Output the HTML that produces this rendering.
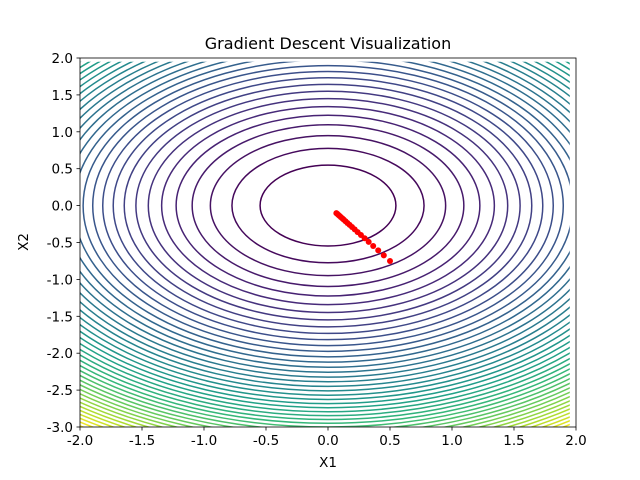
<!DOCTYPE html>
<html><head><meta charset="utf-8"><style>
body{margin:0;background:#fff;}
svg{display:block;font-family:"DejaVu Sans","Liberation Sans",sans-serif;}
</style></head><body>
<svg id="chart" width="640" height="480" viewBox="0 0 640 480" xmlns="http://www.w3.org/2000/svg">
<rect width="640" height="480" fill="#fff"/>
<defs><clipPath id="gridclip"><rect x="80" y="61.7" width="489.8" height="365.3"/></clipPath></defs>
<g id="contours" clip-path="url(#gridclip)"></g>
<g id="path"></g>
<rect x="80" y="58" width="496" height="369" fill="none" stroke="#000" stroke-width="0.8"/>
<g id="xticks"></g>
<g id="yticks"></g>
<text x="328" y="49" font-size="16" text-anchor="middle">Gradient Descent Visualization</text>
<text x="328" y="467" font-size="13.5" text-anchor="middle">X1</text>
<text x="28" y="242" font-size="13.5" text-anchor="middle" transform="rotate(-90 28 242)">X2</text>
</svg>
<script>
const levels = [0.3,0.6,0.9,1.2,1.5,1.8,2.1,2.4,2.7,3.0,3.3,3.6,3.9,4.2,4.5,4.8,5.1,5.4,5.7,6.0,6.3,6.6,6.9,7.2,7.5,7.8,8.1,8.4,8.7,9.0,9.3,9.6,9.9,10.2,10.5,10.8,11.1,11.4,11.7,12.0,12.3,12.6,12.9];
const pathX = [0.5,0.45,0.405,0.3645,0.328,0.2952,0.2657,0.2391,0.2152,0.1937,0.1743,0.1569,0.1412,0.1271,0.1144,0.1029,0.0926,0.0834,0.0750,0.0675];
const pathY = [-0.75,-0.675,-0.6075,-0.5468,-0.492,-0.4428,-0.3986,-0.3587,-0.3228,-0.2906,-0.2615,-0.2354,-0.2118,-0.1907,-0.1716,-0.1544,-0.1389,-0.1251,-0.1125,-0.1013];
const xTickLabels = ["-2.0","-1.5","-1.0","-0.5","0.0","0.5","1.0","1.5","2.0"];
const xTickVals = [-2,-1.5,-1,-0.5,0,0.5,1,1.5,2];
const yTickLabels = ["-3.0","-2.5","-2.0","-1.5","-1.0","-0.5","0.0","0.5","1.0","1.5","2.0"];
const yTickVals = [-3,-2.5,-2,-1.5,-1,-0.5,0,0.5,1,1.5,2];

const NS="http://www.w3.org/2000/svg";
const sx = v => 80 + (v+2)/4*496;
const sy = v => 427 - (v+3)/5*369;
const vir=[[68,1,84],[72,40,120],[62,74,137],[49,104,142],[38,130,142],[31,158,137],[53,183,121],[109,205,89],[180,222,44],[253,231,37]];
function viridis(t){t=Math.max(0,Math.min(1,t));const p=t*(vir.length-1),i=Math.min(vir.length-2,Math.floor(p)),f=p-i;
 const c=vir[i].map((a,k)=>Math.round(a+(vir[i+1][k]-a)*f));return `rgb(${c[0]},${c[1]},${c[2]})`;}
function mk(tag,attrs,parent){const e=document.createElementNS(NS,tag);for(const k in attrs)e.setAttribute(k,attrs[k]);parent.appendChild(e);return e;}

const cg=document.getElementById('contours');
const lmin=levels[0], lmax=levels[levels.length-1];
levels.forEach((lv)=>{
 const r=Math.sqrt(lv);
 const e=mk('ellipse',{cx:sx(0),cy:sy(0),rx:sx(r)-sx(0),ry:sy(0)-sy(r),fill:'none',stroke:viridis((lv-lmin)/(lmax-lmin)),'stroke-width':1.5},cg);
 
 
});
const pg=document.getElementById('path');
pathX.forEach((x,i)=>{
 const c=mk('circle',{cx:sx(x),cy:sy(pathY[i]),r:3,fill:'#ff0000'},pg);
 
 
});
const xg=document.getElementById('xticks');
xTickVals.forEach((v,i)=>{
 const l=mk('line',{x1:sx(v),x2:sx(v),y1:427,y2:430.5,stroke:'#000','stroke-width':0.8},xg);
 
 
 const t=mk('text',{x:sx(v),y:445,'font-size':13.5,'text-anchor':'middle'},xg);
 t.textContent=xTickLabels[i];
 
 
});
const yg=document.getElementById('yticks');
yTickVals.forEach((v,i)=>{
 const l=mk('line',{x1:76.5,x2:80,y1:sy(v),y2:sy(v),stroke:'#000','stroke-width':0.8},yg);
 
 
 const t=mk('text',{x:73,y:sy(v)+5,'font-size':13.5,'text-anchor':'end'},yg);
 t.textContent=yTickLabels[i];
 
 
});
</script>
</body></html>
